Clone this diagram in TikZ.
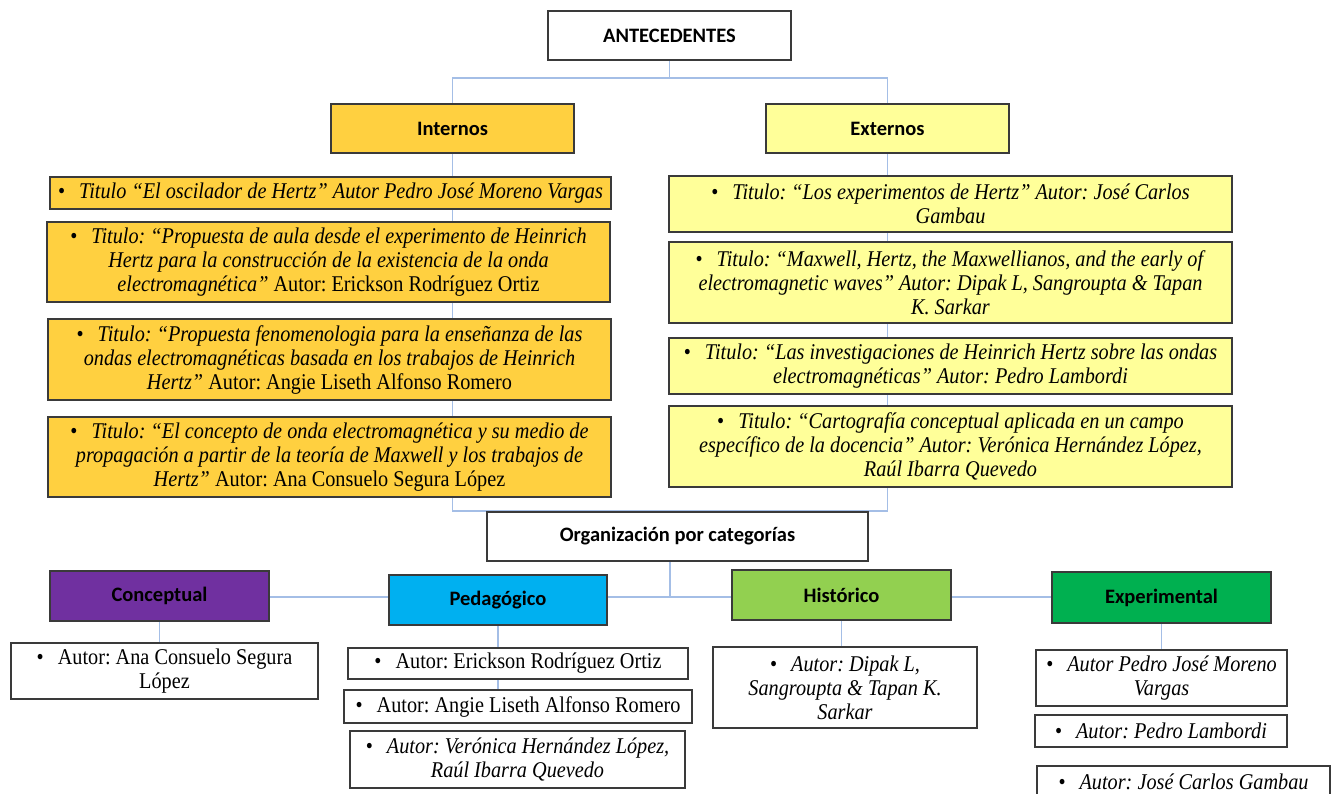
\documentclass[tikz,border=0pt]{standalone}
\usepackage{fontspec}
\setmainfont{Liberation Serif}[FakeStretch=0.9]
\newfontfamily\headfont{Carlito}
\usetikzlibrary{backgrounds}
\frenchspacing

\definecolor{edge}{HTML}{3A3A3A}
\definecolor{link}{HTML}{A4BEE6}
\definecolor{gold}{HTML}{FFD040}
\definecolor{paleyellow}{HTML}{FFFF99}
\definecolor{purple}{HTML}{7030A0}
\definecolor{cyan}{HTML}{00B0F0}
\definecolor{lightgreen}{HTML}{92D050}
\definecolor{green}{HTML}{00B050}

\tikzset{
  frame/.style={draw=edge, line width=1.4pt, inner sep=0pt, align=center,
    fill=white, font=\fontsize{22.5}{24}\selectfont},
  head/.style={frame, font=\headfont\bfseries\fontsize{20.5}{22}\selectfont},
  conn/.style={draw=link, line width=1.2pt},
}
\newcommand{\bul}{\textbullet\hspace{14pt}}

\begin{document}
\begin{tikzpicture}[x=1pt,y=-1pt]
\useasboundingbox (0,0) rectangle (1335,793);

% top level
\node[head, minimum width=243, minimum height=49] (ant) at (669.5,35.5) {ANTECEDENTES};
\node[head, fill=gold, minimum width=243, minimum height=49] (int) at (452.5,128.5) {Internos};
\node[head, fill=paleyellow, minimum width=243, minimum height=49] (ext) at (887.5,128.5) {Externos};

% internal references
\node[frame, fill=gold, minimum width=561, minimum height=32] (i1) at (330.5,193)
  {\bul\textit{Titulo “El oscilador de Hertz” Autor Pedro José Moreno Vargas}};
\node[frame, fill=gold, minimum width=563, minimum height=80] (i2) at (328.5,262)
  {\bul\textit{Titulo: “Propuesta de aula desde el experimento de Heinrich}\\
   \textit{Hertz para la construcción de la existencia de la onda}\\
   \textit{electromagnética”} Autor: Erickson Rodríguez Ortiz};
\node[frame, fill=gold, minimum width=563, minimum height=81] (i3) at (329.5,359.5)
  {\bul\textit{Titulo: “Propuesta fenomenologia para la enseñanza de las}\\
   \textit{ondas electromagnéticas basada en los trabajos de Heinrich}\\
   \textit{Hertz”} Autor: Angie Liseth Alfonso Romero};
\node[frame, fill=gold, minimum width=563, minimum height=80] (i4) at (329.5,457)
  {\bul\textit{Titulo: “El concepto de onda electromagnética y su medio de}\\
   \textit{propagación a partir de la teoría de Maxwell y los trabajos de}\\
   \textit{Hertz”} Autor: Ana Consuelo Segura López};

% external references
\node[frame, fill=paleyellow, minimum width=563, minimum height=56] (e1) at (950.5,204)
  {\bul\textit{Titulo: “Los experimentos de Hertz” Autor: José Carlos}\\ \textit{Gambau}};
\node[frame, fill=paleyellow, minimum width=563, minimum height=81] (e2) at (950.5,282.5)
  {\bul\textit{Titulo: “Maxwell, Hertz, the Maxwellianos, and the early of}\\
   \textit{electromagnetic waves” Autor: Dipak L, Sangroupta \& Tapan}\\ \textit{K. Sarkar}};
\node[frame, fill=paleyellow, minimum width=563, minimum height=56] (e3) at (950.5,366)
  {\bul\textit{Titulo: “Las investigaciones de Heinrich Hertz sobre las ondas}\\
   \textit{electromagnéticas” Autor: Pedro Lambordi}};
\node[frame, fill=paleyellow, minimum width=563, minimum height=81] (e4) at (950.5,446.5)
  {\bul\textit{Titulo: “Cartografía conceptual aplicada en un campo}\\
   \textit{específico de la docencia” Autor: Verónica Hernández López,}\\ \textit{Raúl Ibarra Quevedo}};

% categories
\node[head, minimum width=381, minimum height=49] (org) at (677.5,536.5) {Organización por categorías};
\node[head, fill=purple, minimum width=219, minimum height=50] (con) at (159.5,596) {Conceptual};
\node[head, fill=cyan, minimum width=218, minimum height=50] (ped) at (498,600) {Pedagógico};
\node[head, fill=lightgreen, minimum width=219, minimum height=50] (his) at (841.5,595) {Histórico};
\node[head, fill=green, minimum width=219, minimum height=51] (exp) at (1161.5,597.5) {Experimental};

% authors per category
\node[frame, minimum width=307, minimum height=56] (c1) at (164.5,671)
  {\bul Autor: Ana Consuelo Segura\\ López};
\node[frame, minimum width=340, minimum height=31] (p1) at (518,663.5)
  {\bul Autor: Erickson Rodríguez Ortiz};
\node[frame, minimum width=348, minimum height=33] (p2) at (518,706.5)
  {\bul Autor: Angie Liseth Alfonso Romero};
\node[frame, minimum width=335, minimum height=57] (p3) at (517.5,759.5)
  {\bul\textit{Autor: Verónica Hernández López,}\\ \textit{Raúl Ibarra Quevedo}};
\node[frame, minimum width=264, minimum height=81] (h1) at (845,687.5)
  {\bul\textit{Autor: Dipak L,}\\ \textit{Sangroupta \& Tapan K.}\\ \textit{Sarkar}};
\node[frame, minimum width=251, minimum height=56] (x1) at (1161.5,678)
  {\bul\textit{Autor Pedro José Moreno}\\ \textit{Vargas}};
\node[frame, minimum width=252, minimum height=32] (x2) at (1161,731)
  {\bul\textit{Autor: Pedro Lambordi}};
\node[frame, minimum width=293, minimum height=32] (x3) at (1183.5,782)
  {\bul\textit{Autor: José Carlos Gambau}};

% connectors, drawn behind the boxes
\begin{scope}[on background layer]
  \coordinate (topbar) at (670,78);
  \coordinate (midbar) at (670,511);
  \coordinate (catbar) at (670,597);
  \draw[conn] (ant.south) -- (ant.south |- topbar);
  \draw[conn] (int.north) |- (topbar) -| (ext.north);
  \draw[conn] (int.south) |- (midbar) -| (ext.south);
  \draw[conn] (org.south -| catbar) -- (catbar);
  \draw[conn] (con.east |- catbar) -- (exp.west |- catbar);
  \draw[conn] (con.south) -- (con.south |- c1.north);
  \draw[conn] (ped.south) -- (ped.south |- p1.north);
  \draw[conn] (ped.south |- p1.south) -- (ped.south |- p2.north);
  \draw[conn] (his.south) -- (his.south |- h1.north);
  \draw[conn] (exp.south) -- (exp.south |- x1.north);
\end{scope}
\end{tikzpicture}
\end{document}
